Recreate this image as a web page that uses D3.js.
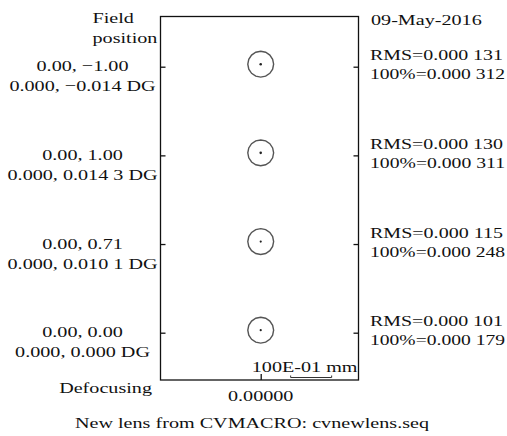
<!DOCTYPE html>
<html>
<head>
<meta charset="utf-8">
<script src="https://cdn.jsdelivr.net/npm/d3@7/dist/d3.min.js"></script>
<style>
  html, body { margin: 0; padding: 0; background: #fff; }
  svg { display: block; }
  text { font-family: "Liberation Serif", "Times New Roman", serif; fill: #111; }
</style>
</head>
<body>
<svg id="chart" width="507" height="436"></svg>
<script>
// Field rows (top to bottom)
const fieldPositions = ["0.00, −1.00", "0.00, 1.00", "0.00, 0.71", "0.00, 0.00"];
const fieldAngles = ["0.000, −0.014 DG", "0.000, 0.014 3 DG", "0.000, 0.010 1 DG", "0.000, 0.000 DG"];
// Spot sizes, mm
const rmsValues = [0.000131, 0.000130, 0.000115, 0.000101];
const geoValues = [0.000312, 0.000311, 0.000248, 0.000179];
// Airy disk radius, mm
const airyRadius = 0.00315;
// Scale bar length (mm) and its label
const barLength = 0.01;
const barLabel = "100E-01 mm";
const defocusTicks = [0];
const dateLabel = "09-May-2016";
const titleLabel = "New lens from CVMACRO: cvnewlens.seq";

const svg = d3.select("#chart");
const box = { left: 160.5, right: 358.5, top: 16.5, bottom: 380 };
const sx = 1.3;          // horizontal stretch of the plotter font
const fs = 15.5;

// Spot coordinate scale: mm -> px, centred on the 0.00000 tick
const x = d3.scaleLinear().domain([-0.02444, 0.02385]).range([box.left, box.right]);
const pxPerMM = x(1) - x(0);
const row = d3.scalePoint().domain(d3.range(fieldPositions.length)).range([66.7, 332.7]);

// Stretched text helper
function label(g, str, tx, ty, anchor) {
  g.append("g")
    .attr("transform", `translate(${tx},${ty}) scale(${sx},1)`)
    .append("text")
    .attr("text-anchor", anchor || "start")
    .style("font-size", fs + "px")
    .text(str);
}
// Text fitted to a fixed run length
function fitted(g, str, tx, ty, len) {
  g.append("text")
    .attr("x", tx).attr("y", ty)
    .attr("textLength", len).attr("lengthAdjust", "spacingAndGlyphs")
    .style("font-size", fs + "px")
    .text(str);
}
const fmt = v => { const s = v.toFixed(6); return s.slice(0, 5) + " " + s.slice(5); };

// Frame
svg.append("rect")
  .attr("x", box.left).attr("y", box.top)
  .attr("width", box.right - box.left).attr("height", box.bottom - box.top)
  .attr("fill", "none").attr("stroke", "#111").attr("stroke-width", 1.3);

// Inward ticks on both sides and at the defocus value
const yl = svg.append("g").attr("transform", `translate(${box.left},0)`)
  .call(d3.axisLeft(row).tickSize(-5).tickFormat(""));
const yr = svg.append("g").attr("transform", `translate(${box.right},0)`)
  .call(d3.axisRight(row).tickSize(-5).tickFormat(""));
const xb = svg.append("g").attr("transform", `translate(0,${box.bottom})`)
  .call(d3.axisBottom(x).tickValues(defocusTicks).tickSize(-6).tickFormat(""));
[yl, yr, xb].forEach(g => {
  g.select(".domain").remove();
  g.selectAll("line").attr("stroke", "#111").attr("stroke-width", 1.3);
});

// Spots: Airy disk outline and geometric spot
const spotNudge = -2.5;
const ring = d3.lineRadial().curve(d3.curveLinearClosed);
const airyPts = d3.range(16).map(i => [i * Math.PI / 8, airyRadius * pxPerMM]);
const spots = svg.append("g");
fieldPositions.forEach((f, i) => {
  const cx = x(0), cy = row(i) + spotNudge;
  spots.append("path")
    .attr("transform", `translate(${cx},${cy})`)
    .attr("d", ring(airyPts))
    .attr("fill", "none").attr("stroke", "#555").attr("stroke-width", 1.4);
  spots.append("circle")
    .attr("cx", cx).attr("cy", cy)
    .attr("r", Math.max(geoValues[i] * pxPerMM, 1.1))
    .attr("fill", "#222");
});

// Left labels
label(svg, "Field", 92.5, 22.5);
label(svg, "position", 92.5, 43);
fieldPositions.forEach((f, i) => {
  label(svg, f, 82.5, row(i) + 4.5, "middle");
  label(svg, fieldAngles[i], 82.5, row(i) + 24.5, "middle");
});

// Right labels
label(svg, dateLabel, 371, 24.5);
fieldPositions.forEach((f, i) => {
  fitted(svg, "RMS=" + fmt(rmsValues[i]), 370, row(i) - 6.5, 133);
  fitted(svg, "100%=" + fmt(geoValues[i]), 370, row(i) + 12.5, 135);
});

// Scale bar
const barStart = 0.0073;
const bar = svg.append("g").attr("stroke", "#333").attr("stroke-width", 1);
bar.append("line").attr("x1", x(barStart)).attr("x2", x(barStart + barLength))
  .attr("y1", 377.5).attr("y2", 377.5);
[barStart, barStart + barLength].forEach(v =>
  bar.append("line").attr("x1", x(v)).attr("x2", x(v)).attr("y1", 375.5).attr("y2", 377.5));
label(svg, barLabel, 357.5, 371.5, "end");

// Bottom labels
label(svg, "Defocusing", 152, 392.5, "end");
defocusTicks.forEach(d => label(svg, d.toFixed(5), x(d), 400.5, "middle"));
label(svg, titleLabel, 252, 428, "middle");
</script>
</body>
</html>
